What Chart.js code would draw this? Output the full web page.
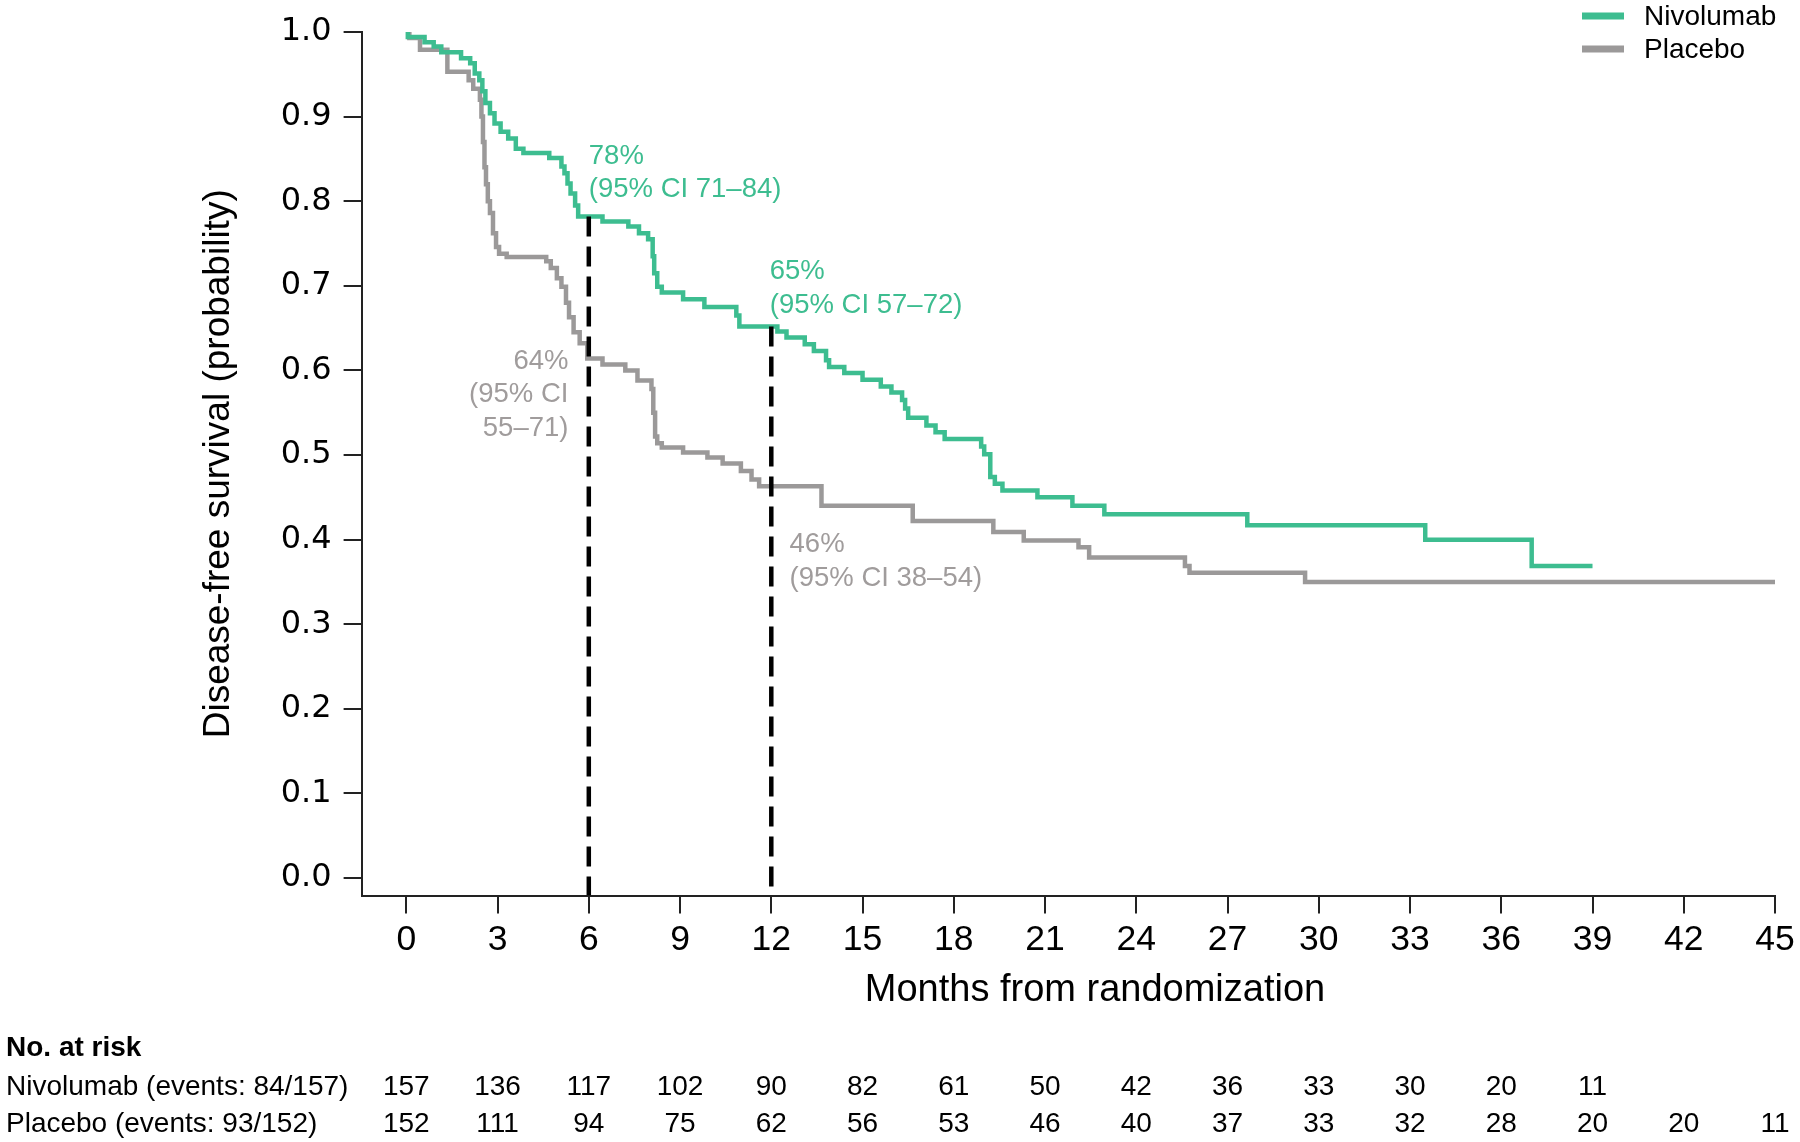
<!DOCTYPE html>
<html>
<head>
<meta charset="utf-8">
<script src="https://cdn.jsdelivr.net/npm/chart.js@4.4.1/dist/chart.umd.min.js"></script>
<style>
  html, body { margin: 0; padding: 0; background: #fff; }
  #wrap { width: 1800px; height: 1142px; }
</style>
</head>
<body>
<div id="wrap"><canvas id="kmChart" width="1800" height="1142"></canvas></div>
<script>
// ticks
const monthTicks = [0, 3, 6, 9, 12, 15, 18, 21, 24, 27, 30, 33, 36, 39, 42, 45];
const probTicks = [0, 0.1, 0.2, 0.3, 0.4, 0.5, 0.6, 0.7, 0.8, 0.9, 1.0];

// Kaplan-Meier steps: time of drop (months) and survival after the drop
const nivoTimes = [0, 0.05, 0.6, 0.9, 1.15, 1.8, 2.1, 2.25, 2.4, 2.5, 2.6, 2.75, 2.9, 3.1, 3.35, 3.6, 3.85, 4.7,
  5.1, 5.2, 5.3, 5.4, 5.55, 5.65, 6.45, 7.3, 7.65, 7.95, 8.1, 8.15, 8.25, 8.4, 9.1, 9.8, 10.85, 10.95,
  12.2, 12.5, 13.1, 13.4, 13.8, 13.9, 14.4, 15.0, 15.6, 15.95, 16.3, 16.4, 16.5, 17.1, 17.4, 17.7,
  18.9, 19.0, 19.2, 19.35, 19.6, 20.75, 21.9, 22.95, 27.65, 33.5, 37.0, 39.0];
const nivoSurv = [1.0, 0.994, 0.988, 0.983, 0.976, 0.969, 0.963, 0.951, 0.943, 0.930, 0.916, 0.904, 0.892, 0.882, 0.874, 0.862, 0.857, 0.851,
  0.841, 0.833, 0.821, 0.809, 0.795, 0.782, 0.776, 0.770, 0.762, 0.755, 0.735, 0.715, 0.699, 0.692, 0.684, 0.675, 0.665, 0.652,
  0.646, 0.639, 0.631, 0.623, 0.612, 0.604, 0.597, 0.589, 0.581, 0.574, 0.565, 0.555, 0.544, 0.535, 0.527, 0.519,
  0.510, 0.501, 0.474, 0.466, 0.458, 0.450, 0.440, 0.430, 0.417, 0.400, 0.369, 0.369];

const placTimes = [0, 0.1, 0.45, 1.35, 2.05, 2.2, 2.42, 2.47, 2.52, 2.57, 2.62, 2.68, 2.75, 2.85, 2.95, 3.05, 3.3, 4.6,
  4.75, 4.95, 5.1, 5.25, 5.35, 5.5, 5.7, 5.95, 6.45, 7.2, 7.6, 8.06, 8.12, 8.18, 8.25, 8.4, 9.1, 9.9, 10.4,
  11.0, 11.35, 11.6, 13.65, 16.65, 19.3, 20.3, 22.1, 22.45, 25.6, 25.75, 29.55, 45];
const placSurv = [1.0, 0.993, 0.979, 0.953, 0.943, 0.933, 0.920, 0.900, 0.870, 0.840, 0.820, 0.800, 0.786, 0.762, 0.746, 0.738, 0.734, 0.729,
  0.721, 0.709, 0.699, 0.680, 0.663, 0.645, 0.632, 0.614, 0.607, 0.600, 0.588, 0.578, 0.550, 0.522, 0.514, 0.509, 0.503, 0.497, 0.490,
  0.481, 0.471, 0.463, 0.440, 0.422, 0.409, 0.399, 0.391, 0.379, 0.369, 0.361, 0.350, 0.350];

// landmark dashed lines
const landmarkMonths = [6, 12];
const landmarkSurv = [0.782, 0.652];

// numbers at risk (one per month tick)
const nivoAtRisk = [157, 136, 117, 102, 90, 82, 61, 50, 42, 36, 33, 30, 20, 11];
const placAtRisk = [152, 111, 94, 75, 62, 56, 53, 46, 40, 37, 33, 32, 28, 20, 20, 11];
const riskLabels = ['Nivolumab (events: 84/157)', 'Placebo (events: 93/152)'];

const GREEN = '#3dbd90';
const GREY = '#9b9999';
const GREY_TEXT = '#a09c9c';
const FONT = '"Liberation Sans", Arial, Helvetica, sans-serif';
const X_MIN = -1.47, Y_MIN = -0.0207;

// annotation text anchored in data units
const notes = [
  { lines: ['78%', '(95% CI 71\u201384)'], month: 6.0, prob: 0.853, align: 'left', color: GREEN },
  { lines: ['65%', '(95% CI 57\u201372)'], month: 11.95, prob: 0.717, align: 'left', color: GREEN },
  { lines: ['64%', '(95% CI', '55\u201371)'], month: 5.33, prob: 0.611, align: 'right', color: GREY_TEXT },
  { lines: ['46%', '(95% CI 38\u201354)'], month: 12.6, prob: 0.394, align: 'left', color: GREY_TEXT }
];

function toPoints(times, surv) {
    return times.map((t, i) => ({x: t, y: surv[i]}));
}

let datasets = [
    { label: 'Nivolumab', data: toPoints(nivoTimes, nivoSurv), borderColor: GREEN, borderWidth: 4.5,
      stepped: 'before', pointRadius: 0, order: 2 },
    { label: 'Placebo', data: toPoints(placTimes, placSurv), borderColor: GREY, borderWidth: 4.5,
      stepped: 'before', pointRadius: 0, order: 3 }
];
landmarkMonths.forEach((m, i) => {
    datasets.push({ label: 'landmark', data: [{x: m, y: landmarkSurv[i]}, {x: m, y: Y_MIN}],
      borderColor: '#000', borderWidth: 4.5, borderDash: [20, 10], pointRadius: 0, order: 1 });
});

const extras = {
    id: 'extras',
    afterDraw(chart) {
        const {ctx, scales: {x, y}} = chart;
        ctx.save();
        ctx.textBaseline = 'middle';

        // annotations
        ctx.font = '27.5px ' + FONT;
        notes.forEach(n => {
            ctx.fillStyle = n.color;
            ctx.textAlign = n.align;
            let px = x.getPixelForValue(n.month);
            let py = y.getPixelForValue(n.prob);
            n.lines.forEach((line, i) => ctx.fillText(line, px, py + i * 33.5));
        });

        // x axis title (sits right of centre in the original)
        ctx.fillStyle = '#000';
        ctx.textAlign = 'center';
        ctx.font = '38px ' + FONT;
        ctx.fillText('Months from randomization', 1095, 991);

        // legend
        const legendItems = [[chart.data.datasets[0], 16], [chart.data.datasets[1], 49]];
        ctx.font = '28px ' + FONT;
        ctx.textAlign = 'left';
        legendItems.forEach(([ds, ly]) => {
            ctx.fillStyle = ds.borderColor;
            ctx.fillRect(1582, ly - 3.5, 42, 7);
            ctx.fillStyle = '#000';
            ctx.fillText(ds.label, 1644, ly + 1);
        });

        // numbers at risk
        ctx.fillStyle = '#000';
        ctx.font = 'bold 28px ' + FONT;
        ctx.fillText('No. at risk', 6, 1048);
        ctx.font = '28px ' + FONT;
        ctx.fillText(riskLabels[0], 6, 1087);
        ctx.fillText(riskLabels[1], 6, 1124);
        ctx.textAlign = 'center';
        nivoAtRisk.forEach((n, i) => ctx.fillText(String(n), x.getPixelForValue(monthTicks[i]), 1087));
        placAtRisk.forEach((n, i) => ctx.fillText(String(n), x.getPixelForValue(monthTicks[i]), 1124));
        ctx.restore();
    }
};

new Chart(document.getElementById('kmChart').getContext('2d'), {
    type: 'line',
    data: { datasets: datasets },
    options: {
        responsive: false,
        animation: false,
        devicePixelRatio: 1,
        layout: { padding: { top: 32, right: 25, left: 196.4, bottom: 130.4 } },
        plugins: { legend: { display: false }, tooltip: { enabled: false } },
        scales: {
            x: {
                type: 'linear', min: X_MIN, max: 45,
                afterBuildTicks: s => { s.ticks = monthTicks.map(v => ({value: v})); },
                afterFit: s => { s.height = 116; },
                grid: { drawOnChartArea: false, drawTicks: true, tickLength: 18, color: '#222', lineWidth: 2 },
                border: { display: true, color: '#222', width: 2 },
                ticks: { color: '#000', padding: 5, maxRotation: 0, font: { family: FONT, size: 35.5 },
                         callback: v => String(v) },
                title: { display: false }
            },
            y: {
                type: 'linear', min: Y_MIN, max: 1.0,
                afterBuildTicks: s => { s.ticks = probTicks.map(v => ({value: v})); },
                afterFit: s => { s.width = 165.2; },
                grid: { drawOnChartArea: false, drawTicks: true, tickLength: 18, color: '#222', lineWidth: 2 },
                border: { display: true, color: '#222', width: 2 },
                ticks: { color: '#000', padding: 12, font: { family: '"DejaVu Sans", Verdana, sans-serif', size: 32 },
                         callback: v => v.toFixed(1) },
                title: { display: true, text: 'Disease-free survival (probability)', color: '#000', padding: 0,
                         font: { family: FONT, size: 37 } }
            }
        }
    },
    plugins: [extras]
});
</script>
</body>
</html>
